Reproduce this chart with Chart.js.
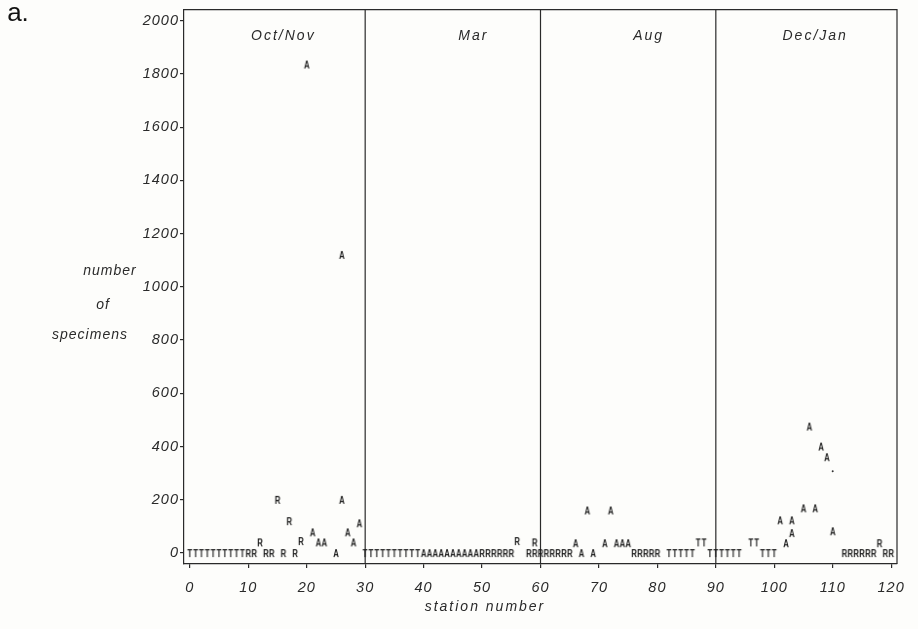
<!DOCTYPE html>
<html>
<head>
<meta charset="utf-8">
<script src="https://cdn.jsdelivr.net/npm/chart.js@4"></script>
<style>
  body { margin: 0; background: #fdfdfb; }
  #wrap { width: 918px; height: 629px; position: relative; }
</style>
</head>
<body>
<div id="wrap"><canvas id="stationChart"></canvas></div>
<script>
// axis ticks
const xTicks = [0, 10, 20, 30, 40, 50, 60, 70, 80, 90, 100, 110, 120];
const yTicks = [0, 200, 400, 600, 800, 1000, 1200, 1400, 1600, 1800, 2000];

// sampling seasons and where they start/end
const seasons = ["Oct/Nov", "Mar", "Aug", "Dec/Jan"];
const seasonBreaks = [30, 60, 90];

// T specimens
const tStations = [0, 1, 2, 3, 4, 5, 6, 7, 8, 9,
    30, 31, 32, 33, 34, 35, 36, 37, 38, 39,
    82, 83, 84, 85, 86, 87, 88,
    89, 90, 91, 92, 93, 94, 96, 97, 98, 99, 100];
const tCounts = [0, 0, 0, 0, 0, 0, 0, 0, 0, 0,
    0, 0, 0, 0, 0, 0, 0, 0, 0, 0,
    0, 0, 0, 0, 0, 40, 40,
    0, 0, 0, 0, 0, 0, 40, 40, 0, 0, 0];

// R specimens
const rStations = [10, 11, 12, 13, 14, 15, 16, 17, 18, 19,
    50, 51, 52, 53, 54, 55, 56, 58, 59, 59,
    60, 61, 62, 63, 64, 65, 76, 77, 78, 79, 80,
    112, 113, 114, 115, 116, 117, 118, 119, 120];
const rCounts = [0, 0, 40, 0, 0, 200, 0, 120, 0, 45,
    0, 0, 0, 0, 0, 0, 45, 0, 40, 0,
    0, 0, 0, 0, 0, 0, 0, 0, 0, 0, 0,
    0, 0, 0, 0, 0, 0, 37, 0, 0];

// A specimens
const aStations = [20, 21, 22, 23, 25, 26, 26, 27, 28, 29,
    40, 41, 42, 43, 44, 45, 46, 47, 48, 49,
    66, 67, 68, 69, 71, 72, 73, 74, 75,
    101, 102, 103, 103, 105, 106, 107, 108, 109, 110];
const aCounts = [1835, 78, 40, 40, 0, 1120, 200, 78, 40, 112,
    0, 0, 0, 0, 0, 0, 0, 0, 0, 0,
    37, 0, 160, 0, 37, 160, 37, 37, 37,
    123, 37, 123, 75, 168, 475, 168, 400, 360, 82];

// stray dot
const dotStations = [110];
const dotCounts = [307];

const ink = "#2a2a2a";
const fontFam = "'Liberation Sans', Arial, sans-serif";

function letter(ch) {
    const c = document.createElement("canvas");
    c.width = 8;
    c.height = 12;
    const g = c.getContext("2d");
    g.translate(4, 6);
    g.scale(0.68, 1);
    g.fillStyle = "#1a1a1a";
    g.font = "bold 11.5px " + fontFam;
    g.textAlign = "center";
    g.textBaseline = "alphabetic";
    g.fillText(ch, 0, 4.1);
    return c;
}

const pairs = (xs, ys) => xs.map((x, i) => ({ x: x, y: ys[i] }));

const frame = {
    id: "frame",
    beforeDraw(chart) {
        chart.ctx.letterSpacing = "1px";
    },
    beforeDatasetsDraw(chart) {
        const { ctx, chartArea: a, scales: { x, y } } = chart;
        ctx.save();
        ctx.strokeStyle = ink;
        ctx.lineWidth = 1.2;
        ctx.beginPath();
        ctx.moveTo(a.left, a.top);
        ctx.lineTo(a.right, a.top);
        ctx.lineTo(a.right, a.bottom);
        seasonBreaks.forEach(s => {
            const px = x.getPixelForValue(s);
            ctx.moveTo(px, a.bottom);
            ctx.lineTo(px, a.top);
        });
        ctx.stroke();

        ctx.fillStyle = ink;
        ctx.font = "italic 14px " + fontFam;
        ctx.letterSpacing = "2px";
        ctx.textAlign = "center";
        ctx.textBaseline = "middle";
        const mids = [16, 48.5, 78.5, 107];
        seasons.forEach((s, i) => {
            ctx.fillText(s, x.getPixelForValue(mids[i]), y.getPixelForValue(1940));
        });
        ctx.restore();
    },
    afterDraw(chart) {
        const { ctx, scales: { x } } = chart;
        ctx.save();
        ctx.fillStyle = ink;
        ctx.textAlign = "center";
        ctx.textBaseline = "middle";
        ctx.font = "italic 14px " + fontFam;
        ctx.letterSpacing = "2px";
        ctx.fillText("station number", x.getPixelForValue(50.5), 607);
        ctx.letterSpacing = "1px";
        ctx.fillText("number", 110, 271);
        ctx.fillText("of", 103, 305);
        ctx.fillText("specimens", 90, 335);
        ctx.letterSpacing = "0px";
        ctx.font = "26px " + fontFam;
        ctx.fillStyle = "#111";
        ctx.fillText("a.", 18, 14);
        ctx.restore();
    }
};

const config = {
    type: "scatter",
    data: {
        datasets: [
            { label: "T", data: pairs(tStations, tCounts), pointStyle: letter("T"), pointRadius: 4 },
            { label: "R", data: pairs(rStations, rCounts), pointStyle: letter("R"), pointRadius: 4 },
            { label: "A", data: pairs(aStations, aCounts), pointStyle: letter("A"), pointRadius: 4 },
            { label: "dot", data: pairs(dotStations, dotCounts), pointStyle: "circle", pointRadius: 1,
              backgroundColor: "#333", borderWidth: 0 }
        ]
    },
    options: {
        responsive: true,
        maintainAspectRatio: false,
        animation: false,
        events: [],
        layout: { padding: { left: 0, right: 21, top: 7, bottom: 0 } },
        plugins: { legend: { display: false }, tooltip: { enabled: false } },
        scales: {
            x: {
                type: "linear",
                min: -1,
                max: 121,
                afterBuildTicks: s => { s.ticks = xTicks.map(v => ({ value: v })); },
                afterFit: s => { s.height = 65; },
                grid: { drawOnChartArea: false, tickLength: 4, color: ink, lineWidth: 1.2 },
                border: { color: ink, width: 1.2 },
                ticks: { color: ink, padding: 11, maxRotation: 0, callback: v => String(v),
                         font: { family: fontFam, size: 14.5, style: "italic" } }
            },
            y: {
                type: "linear",
                min: -41,
                max: 2041,
                afterBuildTicks: s => { s.ticks = yTicks.map(v => ({ value: v })); },
                afterFit: s => { s.width = 184; },
                grid: { drawOnChartArea: false, tickLength: 4, color: ink, lineWidth: 1.2 },
                border: { color: ink, width: 1.2 },
                ticks: { color: ink, padding: 1, callback: v => String(v),
                         font: { family: fontFam, size: 14.5, style: "italic" } }
            }
        }
    },
    plugins: [frame]
};

const myChart = new Chart(document.getElementById("stationChart"), config);
</script>
</body>
</html>
